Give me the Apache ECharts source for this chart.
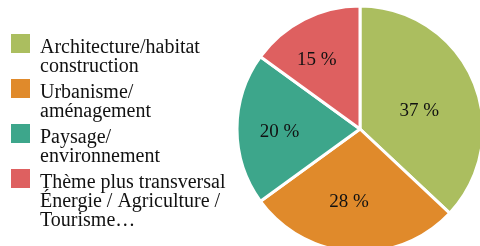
<!DOCTYPE html>
<html>
<head>
<meta charset="utf-8">
<script src="https://cdn.jsdelivr.net/npm/echarts@6/dist/echarts.min.js"></script>
<style>
  html, body { margin: 0; padding: 0; background: #fff; }
  #chart { width: 480px; height: 246px; }
</style>
</head>
<body>
<div id="chart"></div>
<script>
// données
const categories = [
  'Architecture/habitat\nconstruction',
  'Urbanisme/\naménagement',
  'Paysage/\nenvironnement',
  'Thème plus transversal\nÉnergie / Agriculture /\nTourisme…'
]
const values = [37, 28, 20, 15]
const colors = ['#ABBE5F', '#E08A2B', '#3DA68B', '#DE6060']

// décalage des étiquettes (style Excel, pas au milieu du rayon)
const labelOffsets = [[0, 8], [-7, 9], [-16, 3], [-14, -12]]

const font = '"Liberation Serif", "DejaVu Serif", serif'
const lineH = 19

const chart = echarts.init(document.getElementById('chart'))

// une légende par entrée ; une ligne vide en tête pour caler le carré sur la 1re ligne
const legends = categories.map((name, i) => {
  const n = name.split('\n').length
  const lead = n * lineH - 11          // hauteur de la ligne vide
  const h = lead + n * lineH
  return {
    data: [name],
    orient: 'vertical',
    left: 4,
    top: 33 + i * 45 - 5 - (h / 2 - 10.5),
    itemWidth: 21,
    itemHeight: 21,
    icon: 'rect',
    selectedMode: false,
    formatter: (s) => '{e| }\n' + s,
    textStyle: {
      fontFamily: font,
      fontSize: 20,
      lineHeight: lineH,
      color: '#111',
      padding: [0, 0, 0, 4],
      rich: { e: { fontSize: 4, lineHeight: lead } }
    }
  }
})

chart.setOption({
  animation: false,
  color: colors,
  legend: legends,
  series: [{
    type: 'pie',
    center: [360, 129],
    radius: 123,
    startAngle: 90,
    clockwise: true,
    itemStyle: { borderColor: '#fff', borderWidth: 3 },
    label: {
      position: 'inside',
      fontFamily: font,
      fontSize: 19,
      color: '#111',
      formatter: (p) => p.value + ' %'
    },
    labelLine: { show: false },
    emphasis: { disabled: true },
    data: categories.map((name, i) => ({
      name,
      value: values[i],
      label: { offset: labelOffsets[i] }
    }))
  }]
})
</script>
</body>
</html>
